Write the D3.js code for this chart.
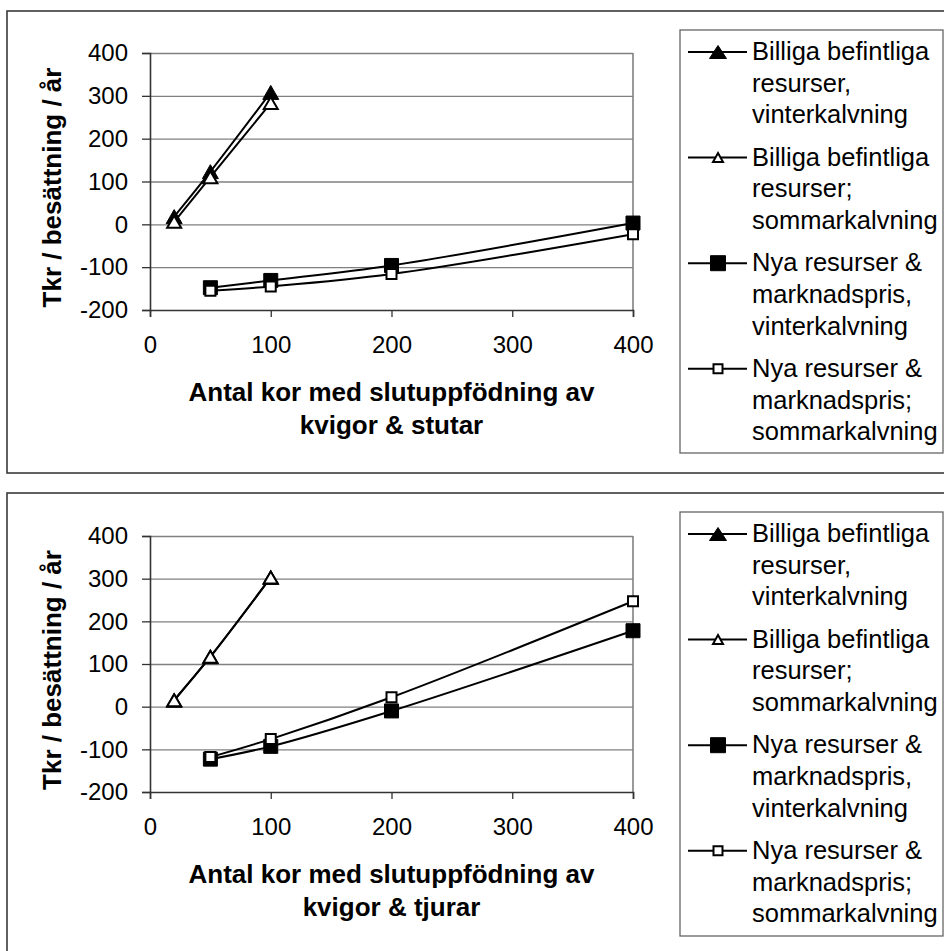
<!DOCTYPE html>
<html><head><meta charset="utf-8">
<script src="https://cdn.jsdelivr.net/npm/d3@7/dist/d3.min.js"></script>
<style>html,body{margin:0;padding:0;background:#fff;}svg{display:block;}</style>
</head><body>
<svg id="chart" width="944" height="951"></svg>
<script>
// ---------- data ----------
const billigaX = [20, 50, 100];
const nyaX = [50, 100, 200, 400];

const topBilligaVinter = [18, 123, 308];
const topBilligaSommar = [6, 110, 283];
const topNyaVinter = [-148, -131, -96, 3];
const topNyaSommar = [-155, -145, -116, -23];

const botBilligaVinter = [15, 117, 303];
const botBilligaSommar = [15, 117, 303];
const botNyaVinter = [-123, -93, -10, 178];
const botNyaSommar = [-118, -76, 22, 247];

const xTicks = [0, 100, 200, 300, 400];
const yTicks = [-200, -100, 0, 100, 200, 300, 400];

const seriesNames = [
  ["Billiga befintliga", "resurser,", "vinterkalvning"],
  ["Billiga befintliga", "resurser;", "sommarkalvning"],
  ["Nya resurser &", "marknadspris,", "vinterkalvning"],
  ["Nya resurser &", "marknadspris;", "sommarkalvning"]
];
const markerTypes = ["triFilled", "triOpen", "sqFilled", "sqOpen"];
const yTitle = "Tkr / besättning / år";
const xTitleLine1 = "Antal kor med slutuppfödning av";
const xTitlesLine2 = ["kvigor & stutar", "kvigor & tjurar"];

// ---------- layout ----------
const FONT = "'Liberation Sans', Arial, sans-serif";
const panels = [
  { frame: {x: 7, y: 11, w: 960, h: 462}, plot: {x0: 150, x1: 633, y0: 53, y1: 310},
    legend: {x: 680, y: 30, w: 263, h: 423},
    series: [[billigaX, topBilligaVinter], [billigaX, topBilligaSommar], [nyaX, topNyaVinter], [nyaX, topNyaSommar]],
    xTitle2: xTitlesLine2[0] },
  { frame: {x: 7, y: 493, w: 960, h: 480}, plot: {x0: 150, x1: 633, y0: 536, y1: 792},
    legend: {x: 680, y: 512, w: 263, h: 424},
    series: [[billigaX, botBilligaVinter], [billigaX, botBilligaSommar], [nyaX, botNyaVinter], [nyaX, botNyaSommar]],
    xTitle2: xTitlesLine2[1] }
];

const svg = d3.select("#chart");

function markerPath(type, w, h) {
  if (type.startsWith("tri")) {
    return `M0,${-h/2}L${w/2},${h/2}L${-w/2},${h/2}Z`;
  }
  return `M${-w/2},${-h/2}H${w/2}V${h/2}H${-w/2}Z`;
}
const markerSizes = {
  plot:   {triFilled: [16, 14], triOpen: [14, 12], sqFilled: [14, 14], sqOpen: [10, 10]},
  legend: {triFilled: [17, 13], triOpen: [10, 9], sqFilled: [15, 15], sqOpen: [9, 9]}
};
function drawMarker(g, type, cx, cy, legend) {
  const [w, h] = markerSizes[legend ? "legend" : "plot"][type];
  const filled = type.endsWith("Filled");
  g.append("path")
    .attr("d", markerPath(type, w, h))
    .attr("transform", `translate(${cx},${cy})`)
    .attr("fill", filled ? "#000" : "#fff")
    .attr("stroke", "#000")
    .attr("stroke-width", filled ? 1 : 2)
    .attr("stroke-linejoin", "miter");
}

panels.forEach(p => {
  const g = svg.append("g");
  g.append("rect").attr("x", p.frame.x).attr("y", p.frame.y)
    .attr("width", p.frame.w).attr("height", p.frame.h)
    .attr("fill", "none").attr("stroke", "#3a3a3a").attr("stroke-width", 1.6);

  const x = d3.scaleLinear().domain([0, 400]).range([p.plot.x0, p.plot.x1]);
  const y = d3.scaleLinear().domain([-200, 400]).range([p.plot.y1, p.plot.y0]);

  // gridlines
  g.append("g").attr("transform", `translate(${p.plot.x0},0)`)
    .call(d3.axisLeft(y).tickValues(yTicks.filter(v => v > -200)).tickSize(-(p.plot.x1 - p.plot.x0)).tickFormat(""))
    .call(a => a.select(".domain").remove())
    .call(a => a.selectAll("line").attr("stroke", "#808080").attr("stroke-width", 1.3));
  g.append("line").attr("x1", x(400)).attr("x2", x(400)).attr("y1", y(400)).attr("y2", y(-200))
    .attr("stroke", "#808080").attr("stroke-width", 1.6);

  // y axis
  const ya = g.append("g").attr("transform", `translate(${p.plot.x0},0)`)
    .call(d3.axisLeft(y).tickValues(yTicks).tickSize(8).tickPadding(14).tickFormat(d => String(d)));
  ya.select(".domain").attr("stroke", "#333").attr("stroke-width", 1.6);
  ya.selectAll(".tick line").attr("stroke", "#333").attr("stroke-width", 1.3);
  ya.selectAll("text").attr("font-family", FONT).attr("font-size", 24).attr("fill", "#000");

  // x axis
  const xa = g.append("g").attr("transform", `translate(0,${p.plot.y1})`)
    .call(d3.axisBottom(x).tickValues(xTicks).tickSize(7).tickPadding(19).tickFormat(d => String(d)));
  xa.select(".domain").attr("stroke", "#333").attr("stroke-width", 1.6);
  xa.selectAll(".tick line").attr("stroke", "#333").attr("stroke-width", 1.3);
  xa.selectAll("text").attr("font-family", FONT).attr("font-size", 24).attr("fill", "#000");

  // axis titles
  const cx = (p.plot.x0 + p.plot.x1) / 2;
  g.append("text").attr("x", cx).attr("y", p.plot.y1 + 91).attr("text-anchor", "middle")
    .attr("font-family", FONT).attr("font-weight", "bold").attr("font-size", 26).text(xTitleLine1);
  g.append("text").attr("x", cx).attr("y", p.plot.y1 + 124).attr("text-anchor", "middle")
    .attr("font-family", FONT).attr("font-weight", "bold").attr("font-size", 26).text(p.xTitle2);
  const cy = (p.plot.y0 + p.plot.y1) / 2 + 6;
  g.append("text").attr("transform", `translate(61,${cy}) rotate(-90)`).attr("text-anchor", "middle")
    .attr("font-family", FONT).attr("font-weight", "bold").attr("font-size", 26).text(yTitle);

  // series
  const line = d3.line().x(d => x(d[0])).y(d => y(d[1])).curve(d3.curveCatmullRom.alpha(0.5));
  p.series.forEach((s, i) => {
    const pts = s[0].map((xv, k) => [xv, s[1][k]]);
    const sg = g.append("g");
    sg.append("path").attr("d", line(pts)).attr("fill", "none").attr("stroke", "#000").attr("stroke-width", 2);
    pts.forEach(pt => drawMarker(sg, markerTypes[i], x(pt[0]), y(pt[1]), false));
  });

  // legend
  const L = p.legend;
  const lg = g.append("g");
  lg.append("rect").attr("x", L.x).attr("y", L.y).attr("width", L.w).attr("height", L.h)
    .attr("fill", "#fff").attr("stroke", "#666").attr("stroke-width", 1.3);
  seriesNames.forEach((lines, i) => {
    const base = L.y + 30 + i * 105.6;
    const my = base - 8;
    lg.append("line").attr("x1", L.x + 8).attr("x2", L.x + 67).attr("y1", my).attr("y2", my)
      .attr("stroke", "#000").attr("stroke-width", 2);
    drawMarker(lg, markerTypes[i], L.x + 38, my, true);
    lines.forEach((t, k) => {
      lg.append("text").attr("x", L.x + 72).attr("y", base + k * 31.7)
        .attr("font-family", FONT).attr("font-size", 25.5).attr("fill", "#000").text(t);
    });
  });
});
</script>
</body></html>
